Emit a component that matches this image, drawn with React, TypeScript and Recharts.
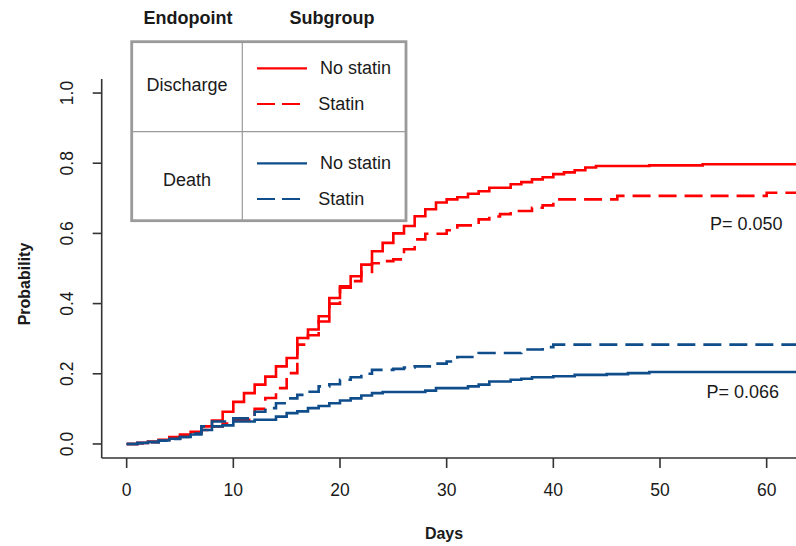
import React from "react";
import { LineChart, Line, XAxis, YAxis } from "recharts";

// ---- data ----
const dischargeNoStatinDays = [0, 1, 2, 3, 4, 5, 6, 7, 8, 9, 10, 11, 12, 13, 14, 15, 16, 17, 18, 19, 20, 21, 22, 23, 24, 25, 26, 27, 28, 29, 30, 31, 32, 33, 34, 36, 37, 38, 39, 40, 41, 42, 43, 44, 49, 54, 63];
const dischargeNoStatinProb = [0, 0.003, 0.007, 0.012, 0.02, 0.027, 0.035, 0.05, 0.067, 0.092, 0.12, 0.145, 0.169, 0.192, 0.221, 0.245, 0.302, 0.326, 0.364, 0.416, 0.449, 0.478, 0.511, 0.549, 0.573, 0.6, 0.621, 0.649, 0.669, 0.688, 0.697, 0.703, 0.713, 0.72, 0.73, 0.74, 0.746, 0.754, 0.76, 0.769, 0.774, 0.78, 0.788, 0.792, 0.794, 0.797, 0.797];

const dischargeStatinDays = [0, 1, 2, 3, 4, 5, 6, 7, 8, 9, 10, 12, 13, 14, 15, 16, 17, 18, 19, 20, 21, 22, 23, 24, 25, 26, 27, 28, 30, 31, 33, 34, 35, 36, 38, 39, 40, 46, 60, 63];
const dischargeStatinProb = [0, 0.002, 0.005, 0.01, 0.015, 0.022, 0.03, 0.04, 0.05, 0.058, 0.069, 0.1, 0.131, 0.159, 0.202, 0.283, 0.31, 0.349, 0.4, 0.445, 0.464, 0.49, 0.515, 0.521, 0.526, 0.555, 0.583, 0.599, 0.609, 0.623, 0.64, 0.648, 0.655, 0.664, 0.673, 0.68, 0.697, 0.707, 0.716, 0.716];

const deathNoStatinDays = [0, 1, 2, 3, 4, 5, 6, 7, 8, 9, 10, 12, 14, 15, 16, 17, 18, 19, 20, 21, 22, 23, 24, 28, 29, 32, 33, 34, 36, 37, 38, 40, 42, 45, 47, 49, 63];
const deathNoStatinProb = [0, 0.003, 0.006, 0.01, 0.015, 0.02, 0.027, 0.04, 0.05, 0.053, 0.064, 0.069, 0.078, 0.088, 0.093, 0.102, 0.108, 0.116, 0.124, 0.13, 0.138, 0.145, 0.148, 0.152, 0.159, 0.164, 0.169, 0.178, 0.183, 0.186, 0.19, 0.193, 0.197, 0.199, 0.202, 0.205, 0.205];

const deathStatinDays = [0, 1, 2, 3, 4, 5, 6, 7, 8, 10, 12, 13, 14, 15, 16, 17, 18, 19, 20, 21, 22, 23, 25, 26, 27, 29, 30, 31, 33, 37, 39, 40, 63];
const deathStatinProb = [0, 0.002, 0.005, 0.009, 0.014, 0.02, 0.03, 0.05, 0.064, 0.073, 0.092, 0.102, 0.116, 0.13, 0.14, 0.149, 0.164, 0.17, 0.183, 0.19, 0.2, 0.211, 0.214, 0.218, 0.221, 0.229, 0.235, 0.248, 0.259, 0.269, 0.276, 0.283, 0.283];

const xTicks = [0, 10, 20, 30, 40, 50, 60];
const yTicks = [0, 0.2, 0.4, 0.6, 0.8, 1.0];
const pValues = ["P= 0.050", "P= 0.066"];

const build = (days: number[], probs: number[]) => days.map((d, i) => ({ day: d, p: probs[i] }));

const RED = "#FF0000";
const BLUE = "#104E8B";
const FONT = "'Liberation Sans', Arial, Helvetica, sans-serif";
const TEXT = "#1a1a1a";
const AXIS = "#333333";

const YTick = (props: any) => {
  const { y, payload } = props;
  return (
    <text
      x={67}
      y={y}
      transform={`rotate(-90, 67, ${y})`}
      textAnchor="middle"
      dominantBaseline="central"
      fontSize={17.5}
      fontFamily={FONT}
      fill={TEXT}
    >
      {Number(payload.value).toFixed(1)}
    </text>
  );
};

const XTick = (props: any) => {
  const { x, payload } = props;
  return (
    <text x={x} y={490} textAnchor="middle" dominantBaseline="central" fontSize={17.5} fontFamily={FONT} fill={TEXT}>
      {payload.value}
    </text>
  );
};

export default function App() {
  return (
    <div style={{ position: "absolute", left: 0, top: 0, width: 796, height: 546, background: "#fff" }}>
      <LineChart width={796} height={546} margin={{ top: 79, right: 0, bottom: 0, left: 0 }}>
        <XAxis
          dataKey="day"
          type="number"
          domain={[-2.34, 62.75]}
          allowDataOverflow
          ticks={xTicks}
          height={88}
          tickSize={10}
          tick={<XTick />}
          axisLine={{ stroke: AXIS, strokeWidth: 1.6 }}
          tickLine={{ stroke: AXIS, strokeWidth: 1.6 }}
        />
        <YAxis
          type="number"
          domain={[-0.04, 1.04]}
          allowDataOverflow
          ticks={yTicks}
          width={101.7}
          tickSize={9}
          tick={<YTick />}
          axisLine={{ stroke: AXIS, strokeWidth: 1.6 }}
          tickLine={{ stroke: AXIS, strokeWidth: 1.6 }}
        />
        <Line data={build(dischargeStatinDays, dischargeStatinProb)} dataKey="p" type="stepAfter" stroke={RED} strokeWidth={2.6} strokeDasharray="18 8" dot={false} activeDot={false} isAnimationActive={false} />
        <Line data={build(dischargeNoStatinDays, dischargeNoStatinProb)} dataKey="p" type="stepAfter" stroke={RED} strokeWidth={2.6} dot={false} activeDot={false} isAnimationActive={false} />
        <Line data={build(deathStatinDays, deathStatinProb)} dataKey="p" type="stepAfter" stroke={BLUE} strokeWidth={2.6} strokeDasharray="18 8" dot={false} activeDot={false} isAnimationActive={false} />
        <Line data={build(deathNoStatinDays, deathNoStatinProb)} dataKey="p" type="stepAfter" stroke={BLUE} strokeWidth={2.6} dot={false} activeDot={false} isAnimationActive={false} />
      </LineChart>
      <svg width={796} height={546} style={{ position: "absolute", left: 0, top: 0, pointerEvents: "none" }} fontFamily={FONT}>
        {/* axis titles */}
        <text x={24} y={284} transform="rotate(-90, 24, 284)" textAnchor="middle" dominantBaseline="central" fontSize={16} fontWeight="bold" fill={TEXT}>
          Probability
        </text>
        <text x={444} y={533} textAnchor="middle" dominantBaseline="central" fontSize={16} fontWeight="bold" fill={TEXT}>
          Days
        </text>
        {/* p values */}
        <text x={710} y={224} dominantBaseline="central" fontSize={18} fill={TEXT}>{pValues[0]}</text>
        <text x={706.5} y={392} dominantBaseline="central" fontSize={18} fill={TEXT}>{pValues[1]}</text>
        {/* legend table */}
        <text x={188} y={18} textAnchor="middle" dominantBaseline="central" fontSize={18} fontWeight="bold" fill={TEXT}>Endopoint</text>
        <text x={332} y={18} textAnchor="middle" dominantBaseline="central" fontSize={18} fontWeight="bold" fill={TEXT}>Subgroup</text>
        <rect x={131.7} y={41.7} width={274.3} height={179} fill="#fff" stroke="#9a9a9a" strokeWidth={2.8} />
        <line x1={242.3} y1={41.7} x2={242.3} y2={220.7} stroke="#9a9a9a" strokeWidth={1.2} />
        <line x1={131.7} y1={131.7} x2={406} y2={131.7} stroke="#9a9a9a" strokeWidth={1.2} />
        <text x={187} y={85} textAnchor="middle" dominantBaseline="central" fontSize={18} fill={TEXT}>Discharge</text>
        <text x={187} y={180} textAnchor="middle" dominantBaseline="central" fontSize={18} fill={TEXT}>Death</text>
        <line x1={257} y1={68.3} x2={307} y2={68.3} stroke={RED} strokeWidth={2.2} />
        <line x1={257} y1={104} x2={300} y2={104} stroke={RED} strokeWidth={2.2} strokeDasharray="18 7" />
        <line x1={257} y1={163.3} x2={307} y2={163.3} stroke={BLUE} strokeWidth={2.2} />
        <line x1={257} y1={199} x2={300} y2={199} stroke={BLUE} strokeWidth={2.2} strokeDasharray="18 7" />
        <text x={320} y={68} dominantBaseline="central" fontSize={18} fill={TEXT}>No statin</text>
        <text x={318.3} y={104} dominantBaseline="central" fontSize={18} fill={TEXT}>Statin</text>
        <text x={320} y={163} dominantBaseline="central" fontSize={18} fill={TEXT}>No statin</text>
        <text x={318.3} y={199} dominantBaseline="central" fontSize={18} fill={TEXT}>Statin</text>
      </svg>
    </div>
  );
}
